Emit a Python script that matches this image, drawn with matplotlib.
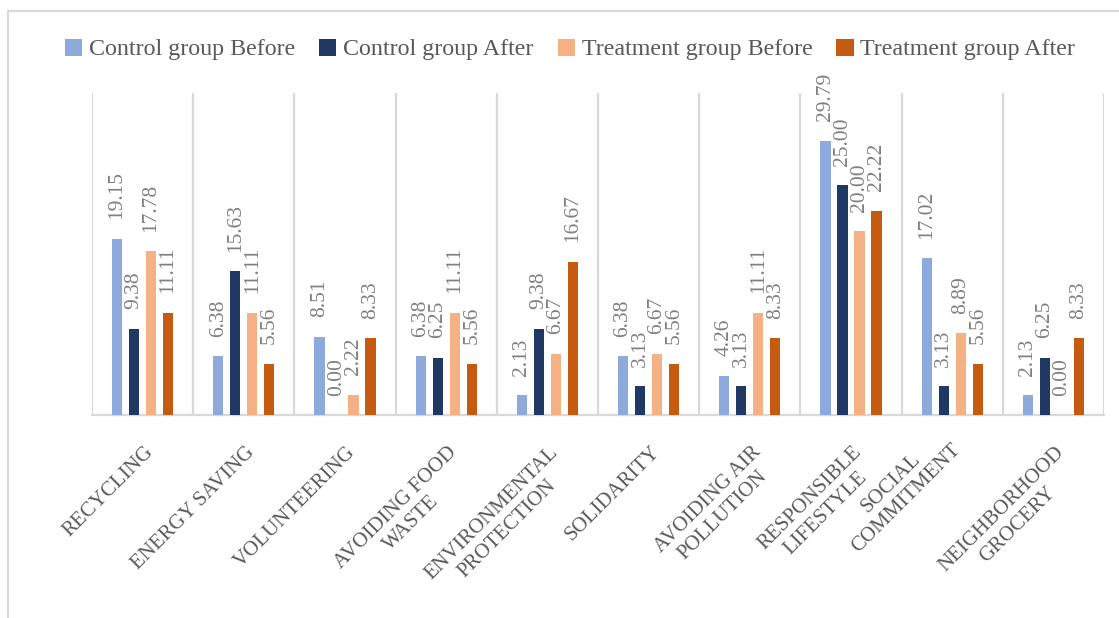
import numpy as np
import matplotlib.pyplot as plt
from matplotlib.lines import Line2D

categories = ['RECYCLING', 'ENERGY SAVING', 'VOLUNTEERING', 'AVOIDING FOOD\nWASTE',
              'ENVIRONMENTAL\nPROTECTION', 'SOLIDARITY', 'AVOIDING AIR\nPOLLUTION',
              'RESPONSIBLE\nLIFESTYLE', 'SOCIAL\nCOMMITMENT', 'NEIGHBORHOOD\nGROCERY']

control_before = [19.15, 6.38, 8.51, 6.38, 2.13, 6.38, 4.26, 29.79, 17.02, 2.13]
control_after = [9.38, 15.63, 0.00, 6.25, 9.38, 3.13, 3.13, 25.00, 3.13, 6.25]
treatment_before = [17.78, 11.11, 2.22, 11.11, 6.67, 6.67, 11.11, 20.00, 8.89, 0.00]
treatment_after = [11.11, 5.56, 8.33, 5.56, 16.67, 5.56, 8.33, 22.22, 5.56, 8.33]

series_names = ['Control group Before', 'Control group After',
                'Treatment group Before', 'Treatment group After']
series_colors = ['#8EA9DB', '#203864', '#F4B183', '#C55A11']

plt.rcParams['font.family'] = ['Liberation Serif', 'DejaVu Serif']

fig = plt.figure(figsize=(11.19, 6.18), dpi=100)
ax = fig.add_axes([92 / 1119, 1 - 415 / 618, 1012 / 1119, 322 / 618])

x = np.arange(len(categories))
pitch = 0.168
width = 0.099
all_series = [control_before, control_after, treatment_before, treatment_after]

bars = []
for k, (vals, color, name) in enumerate(zip(all_series, series_colors, series_names)):
    b = ax.bar(x + (k - 1.5) * pitch, vals, width, color=color, label=name, zorder=3)
    bars.append(b)
    for xi, v in zip(x + (k - 1.5) * pitch, vals):
        ax.annotate(f'{v:.2f}', (xi, v), xytext=(0, 14), textcoords='offset points',
                    rotation=90, ha='center', va='bottom', fontsize=15.5,
                    color='#808080')

ax.set_xlim(-0.5, len(categories) - 0.5)
ax.set_ylim(0, 35)
ax.set_yticks([])
ax.set_xticks([])
ax.set_xticks(np.arange(len(categories) + 1) - 0.5, minor=True)
ax.tick_params(which='both', length=0)
ax.grid(which='minor', axis='x', color='#D9D9D9', linewidth=1.6, zorder=0)
for side in ['top', 'right', 'left']:
    ax.spines[side].set_visible(False)
ax.spines['bottom'].set_color('#D9D9D9')
ax.spines['bottom'].set_linewidth(1.6)

# rotated category names; the end of the longest line sits at the tick
cat_size = 15
line_step = 1.2 * cat_size * np.sqrt(0.5)
for xi, name in zip(x, categories):
    lines = name.split('\n')
    dx, dy = 1, -20
    if len(lines) > 1 and len(lines[1]) > len(lines[0]):
        dx, dy = dx - line_step, dy + line_step
    ax.annotate(name, (xi, 0), xycoords=('data', 'axes fraction'),
                xytext=(dx, dy), textcoords='offset points',
                rotation=45, rotation_mode='anchor', ha='right', va='top',
                multialignment='center', fontsize=cat_size, color='#595959')

fig.legend(handles=bars, labels=series_names, loc='center',
           bbox_to_anchor=(570 / 1119, 1 - 49.5 / 618), ncol=4, frameon=False,
           fontsize=17.3, handlelength=0.72, handleheight=0.72, handletextpad=0.28,
           columnspacing=1.0, labelcolor='#595959')

# chart frame
fig.add_artist(Line2D([8 / 1119, 1], [1 - 11 / 618] * 2, color='#D9D9D9', lw=1.6))
fig.add_artist(Line2D([8 / 1119] * 2, [0, 1 - 11 / 618], color='#D9D9D9', lw=1.6))

fig.savefig('out.png', dpi=100)
